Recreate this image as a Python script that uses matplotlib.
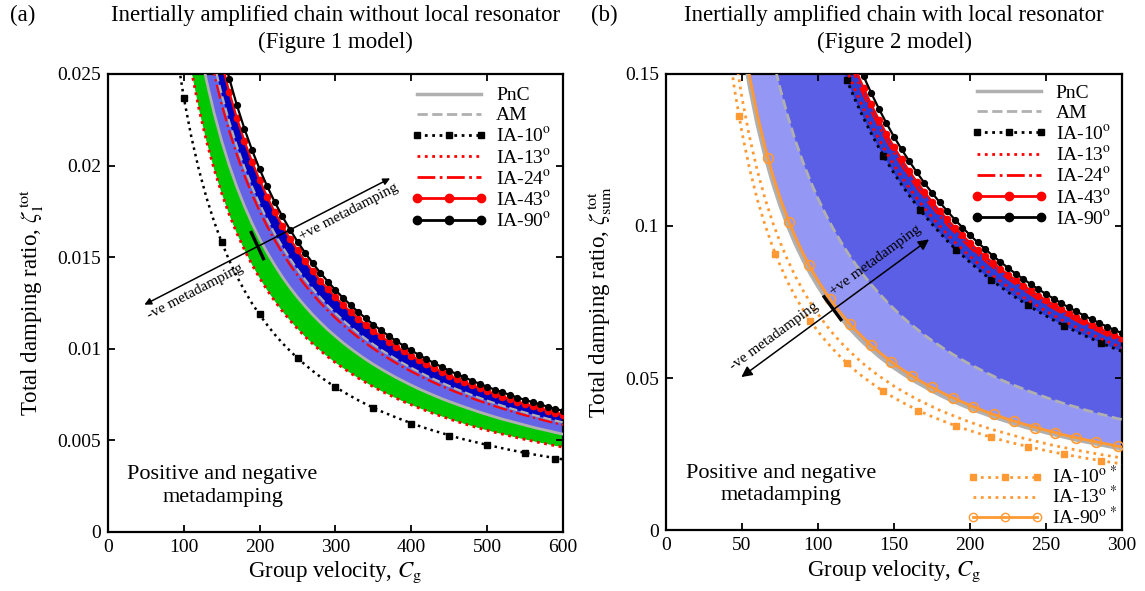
import matplotlib
matplotlib.use('Agg')
import matplotlib.pyplot as plt
from matplotlib.lines import Line2D
from matplotlib.ticker import FormatStrFormatter
import numpy as np

plt.rcParams['font.family'] = ['Liberation Serif', 'DejaVu Serif']
plt.rcParams['mathtext.fontset'] = 'stix'

# ---------------- (a) chain without local resonator ----------------
# damping ratios in this panel are stored in units of 1e-3
cg_a_ia10 = np.arange(90, 601, 10)
zeta_a_ia10 = [26.33, 23.70, 21.55, 19.75, 18.23, 16.93, 15.80, 14.81, 13.94, 13.17,
               12.47, 11.85, 11.29, 10.77, 10.30, 9.88, 9.48, 9.12, 8.78, 8.46,
               8.17, 7.90, 7.65, 7.41, 7.18, 6.97, 6.77, 6.58, 6.41, 6.24,
               6.08, 5.93, 5.78, 5.64, 5.51, 5.39, 5.27, 5.15, 5.04, 4.94,
               4.84, 4.74, 4.65, 4.56, 4.47, 4.39, 4.31, 4.23, 4.16, 4.09,
               4.02, 3.95]
cg_a_ia10_marks = [100, 150, 200, 250, 300, 350, 400, 450, 500, 550, 590]
zeta_a_ia10_marks = [23.7, 15.8, 11.9, 9.47, 7.89, 6.75, 5.88, 5.24, 4.71, 4.28, 3.99]

cg_a_ia13 = np.arange(110, 601, 10)
zeta_a_ia13 = [25.18, 23.08, 21.31, 19.79, 18.47, 17.31, 16.29, 15.39, 14.58, 13.85,
               13.19, 12.59, 12.04, 11.54, 11.08, 10.65, 10.26, 9.89, 9.55, 9.23,
               8.94, 8.66, 8.39, 8.15, 7.91, 7.69, 7.49, 7.29, 7.10, 6.93,
               6.76, 6.60, 6.44, 6.30, 6.16, 6.02, 5.89, 5.77, 5.65, 5.54,
               5.43, 5.33, 5.23, 5.13, 5.04, 4.95, 4.86, 4.78, 4.69, 4.62]

cg_a_pnc = np.arange(120, 601, 10)
zeta_a_pnc = [26.67, 24.62, 22.86, 21.33, 20.00, 18.82, 17.78, 16.84, 16.00, 15.24,
              14.55, 13.91, 13.33, 12.80, 12.31, 11.85, 11.43, 11.03, 10.67, 10.32,
              10.00, 9.70, 9.41, 9.14, 8.89, 8.65, 8.42, 8.21, 8.00, 7.80,
              7.62, 7.44, 7.27, 7.11, 6.96, 6.81, 6.67, 6.53, 6.40, 6.27,
              6.15, 6.04, 5.93, 5.82, 5.71, 5.61, 5.52, 5.42, 5.33]

cg_a_ia24 = np.arange(130, 601, 10)
zeta_a_ia24 = [26.92, 25.00, 23.33, 21.88, 20.59, 19.44, 18.42, 17.50, 16.67, 15.91,
               15.22, 14.58, 14.00, 13.46, 12.96, 12.50, 12.07, 11.67, 11.29, 10.94,
               10.61, 10.29, 10.00, 9.72, 9.46, 9.21, 8.97, 8.75, 8.54, 8.33,
               8.14, 7.95, 7.78, 7.61, 7.45, 7.29, 7.14, 7.00, 6.86, 6.73,
               6.60, 6.48, 6.36, 6.25, 6.14, 6.03, 5.93, 5.83]

cg_a_am = np.arange(130, 601, 10)
zeta_a_am = [27.54, 25.57, 23.87, 22.38, 21.06, 19.89, 18.84, 17.90, 17.05, 16.27,
             15.57, 14.92, 14.32, 13.77, 13.26, 12.79, 12.34, 11.93, 11.55, 11.19,
             10.85, 10.53, 10.23, 9.94, 9.68, 9.42, 9.18, 8.95, 8.73, 8.52,
             8.33, 8.14, 7.96, 7.78, 7.62, 7.46, 7.31, 7.16, 7.02, 6.88,
             6.75, 6.63, 6.51, 6.39, 6.28, 6.17, 6.07, 5.97]

cg_a_ia43 = np.arange(150, 601, 10)
zeta_a_ia43 = [25.60, 24.00, 22.59, 21.33, 20.21, 19.20, 18.29, 17.45, 16.70, 16.00,
               15.36, 14.77, 14.22, 13.71, 13.24, 12.80, 12.39, 12.00, 11.64, 11.29,
               10.97, 10.67, 10.38, 10.11, 9.85, 9.60, 9.37, 9.14, 8.93, 8.73,
               8.53, 8.35, 8.17, 8.00, 7.84, 7.68, 7.53, 7.38, 7.25, 7.11,
               6.98, 6.86, 6.74, 6.62, 6.51, 6.40]

cg_a_ia90 = np.arange(150, 601, 10)
zeta_a_ia90 = [26.40, 24.75, 23.29, 22.00, 20.84, 19.80, 18.86, 18.00, 17.22, 16.50,
               15.84, 15.23, 14.67, 14.14, 13.66, 13.20, 12.77, 12.38, 12.00, 11.65,
               11.31, 11.00, 10.70, 10.42, 10.15, 9.90, 9.66, 9.43, 9.21, 9.00,
               8.80, 8.61, 8.43, 8.25, 8.08, 7.92, 7.76, 7.62, 7.47, 7.33,
               7.20, 7.07, 6.95, 6.83, 6.71, 6.60]

# ---------------- (b) chain with local resonator ----------------
cg_b_ia10s = np.arange(40, 301, 5)
zeta_b_ia10s = [0.1633, 0.1451, 0.1306, 0.1187, 0.1088, 0.1005, 0.0933, 0.0871, 0.0816, 0.0768,
                0.0726, 0.0687, 0.0653, 0.0622, 0.0594, 0.0568, 0.0544, 0.0522, 0.0502, 0.0484,
                0.0466, 0.0450, 0.0435, 0.0421, 0.0408, 0.0396, 0.0384, 0.0373, 0.0363, 0.0353,
                0.0344, 0.0335, 0.0327, 0.0319, 0.0311, 0.0304, 0.0297, 0.0290, 0.0284, 0.0278,
                0.0272, 0.0267, 0.0261, 0.0256, 0.0251, 0.0246, 0.0242, 0.0237, 0.0233, 0.0229,
                0.0225, 0.0221, 0.0218]
cg_b_ia10s_marks = [48, 72, 95, 119, 143, 166, 191, 214, 238, 262, 286]
zeta_b_ia10s_marks = [0.1362, 0.0907, 0.0687, 0.0549, 0.0457, 0.0393, 0.0342, 0.0305,
                      0.0274, 0.0249, 0.0228]

cg_b_ia13s = np.arange(45, 301, 5)
zeta_b_ia13s = [0.1578, 0.1420, 0.1291, 0.1183, 0.1092, 0.1014, 0.0947, 0.0888, 0.0835, 0.0789,
                0.0747, 0.0710, 0.0676, 0.0645, 0.0617, 0.0592, 0.0568, 0.0546, 0.0526, 0.0507,
                0.0490, 0.0473, 0.0458, 0.0444, 0.0430, 0.0418, 0.0406, 0.0394, 0.0384, 0.0374,
                0.0364, 0.0355, 0.0346, 0.0338, 0.0330, 0.0323, 0.0316, 0.0309, 0.0302, 0.0296,
                0.0290, 0.0284, 0.0278, 0.0273, 0.0268, 0.0263, 0.0258, 0.0254, 0.0249, 0.0245,
                0.0241, 0.0237]

cg_b_pnc = np.arange(50, 301, 5)
zeta_b_pnc = [0.1600, 0.1455, 0.1333, 0.1231, 0.1143, 0.1067, 0.1000, 0.0941, 0.0889, 0.0842,
              0.0800, 0.0762, 0.0727, 0.0696, 0.0667, 0.0640, 0.0615, 0.0593, 0.0571, 0.0552,
              0.0533, 0.0516, 0.0500, 0.0485, 0.0471, 0.0457, 0.0444, 0.0432, 0.0421, 0.0410,
              0.0400, 0.0390, 0.0381, 0.0372, 0.0364, 0.0356, 0.0348, 0.0340, 0.0333, 0.0327,
              0.0320, 0.0314, 0.0308, 0.0302, 0.0296, 0.0291, 0.0286, 0.0281, 0.0276, 0.0271,
              0.0267]

cg_b_ia90s = np.arange(50, 301, 5)
zeta_b_ia90s = [0.1640, 0.1491, 0.1367, 0.1262, 0.1171, 0.1093, 0.1025, 0.0965, 0.0911, 0.0863,
                0.0820, 0.0781, 0.0745, 0.0713, 0.0683, 0.0656, 0.0631, 0.0607, 0.0586, 0.0566,
                0.0547, 0.0529, 0.0513, 0.0497, 0.0482, 0.0469, 0.0456, 0.0443, 0.0432, 0.0421,
                0.0410, 0.0400, 0.0390, 0.0381, 0.0373, 0.0364, 0.0357, 0.0349, 0.0342, 0.0335,
                0.0328, 0.0322, 0.0315, 0.0309, 0.0304, 0.0298, 0.0293, 0.0288, 0.0283, 0.0278,
                0.0273]
cg_b_ia90s_marks = [67, 81, 94, 108, 121, 135, 148, 162, 175, 189, 202, 216, 229, 243,
                    256, 270, 283, 297]
zeta_b_ia90s_marks = [0.1224, 0.1012, 0.0872, 0.0759, 0.0678, 0.0607, 0.0554, 0.0506,
                      0.0469, 0.0434, 0.0406, 0.0380, 0.0358, 0.0337, 0.0320, 0.0304,
                      0.0290, 0.0276]

cg_b_am = np.arange(70, 301, 5)
zeta_b_am = [0.1557, 0.1453, 0.1363, 0.1282, 0.1211, 0.1147, 0.1090, 0.1038, 0.0991, 0.0948,
             0.0908, 0.0872, 0.0838, 0.0807, 0.0779, 0.0752, 0.0727, 0.0703, 0.0681, 0.0661,
             0.0641, 0.0623, 0.0606, 0.0589, 0.0574, 0.0559, 0.0545, 0.0532, 0.0519, 0.0507,
             0.0495, 0.0484, 0.0474, 0.0464, 0.0454, 0.0445, 0.0436, 0.0427, 0.0419, 0.0411,
             0.0404, 0.0396, 0.0389, 0.0382, 0.0376, 0.0369, 0.0363]

cg_b_ia10 = np.arange(115, 301, 5)
zeta_b_ia10 = [0.1530, 0.1467, 0.1408, 0.1354, 0.1304, 0.1257, 0.1214, 0.1173, 0.1135, 0.1100,
               0.1067, 0.1035, 0.1006, 0.0978, 0.0951, 0.0926, 0.0903, 0.0880, 0.0859, 0.0838,
               0.0819, 0.0800, 0.0782, 0.0765, 0.0749, 0.0733, 0.0718, 0.0704, 0.0690, 0.0677,
               0.0664, 0.0652, 0.0640, 0.0629, 0.0618, 0.0607, 0.0597, 0.0587]
cg_b_ia10_marks = [119, 143, 167, 191, 214, 238, 262, 286]
zeta_b_ia10_marks = [0.1479, 0.1231, 0.1054, 0.0921, 0.0822, 0.0739, 0.0672, 0.0615]

cg_b_ia13 = np.arange(115, 301, 5)
zeta_b_ia13 = [0.1565, 0.1500, 0.1440, 0.1385, 0.1333, 0.1286, 0.1241, 0.1200, 0.1161, 0.1125,
               0.1091, 0.1059, 0.1029, 0.1000, 0.0973, 0.0947, 0.0923, 0.0900, 0.0878, 0.0857,
               0.0837, 0.0818, 0.0800, 0.0783, 0.0766, 0.0750, 0.0735, 0.0720, 0.0706, 0.0692,
               0.0679, 0.0667, 0.0655, 0.0643, 0.0632, 0.0621, 0.0610, 0.0600]

cg_b_ia24 = np.arange(115, 301, 5)
zeta_b_ia24 = [0.1617, 0.1550, 0.1488, 0.1431, 0.1378, 0.1329, 0.1283, 0.1240, 0.1200, 0.1163,
               0.1127, 0.1094, 0.1063, 0.1033, 0.1005, 0.0979, 0.0954, 0.0930, 0.0907, 0.0886,
               0.0865, 0.0845, 0.0827, 0.0809, 0.0791, 0.0775, 0.0759, 0.0744, 0.0729, 0.0715,
               0.0702, 0.0689, 0.0676, 0.0664, 0.0653, 0.0641, 0.0631, 0.0620]

cg_b_ia43 = np.arange(120, 301, 5)
zeta_b_ia43 = [0.1575, 0.1512, 0.1454, 0.1400, 0.1350, 0.1303, 0.1260, 0.1219, 0.1181, 0.1145,
               0.1112, 0.1080, 0.1050, 0.1022, 0.0995, 0.0969, 0.0945, 0.0922, 0.0900, 0.0879,
               0.0859, 0.0840, 0.0822, 0.0804, 0.0788, 0.0771, 0.0756, 0.0741, 0.0727, 0.0713,
               0.0700, 0.0687, 0.0675, 0.0663, 0.0652, 0.0641, 0.0630]

cg_b_ia90 = np.arange(125, 301, 5)
zeta_b_ia90 = [0.1552, 0.1492, 0.1437, 0.1386, 0.1338, 0.1293, 0.1252, 0.1213, 0.1176, 0.1141,
               0.1109, 0.1078, 0.1049, 0.1021, 0.0995, 0.0970, 0.0946, 0.0924, 0.0902, 0.0882,
               0.0862, 0.0843, 0.0826, 0.0808, 0.0792, 0.0776, 0.0761, 0.0746, 0.0732, 0.0719,
               0.0705, 0.0693, 0.0681, 0.0669, 0.0658, 0.0647]

# annotation arrows (data coords): tail, head, and the short crossing bar
arrow_a = [(48, 0.0124), (372, 0.0193)]
bar_a = [(189, 0.01634), (205, 0.01491)]
arrow_b = [(49.5, 0.0503), (173, 0.0956)]
bar_b = [(104, 0.0767), (115, 0.0692)]

GRAY = '#b0b0b0'
ORANGE = '#ff9933'
FS_TICK = 14
FS_LABEL = 16.5


def style_axes(ax, xmax, xstep, ymax, ystep):
    """Box frame with inward ticks on all four sides."""
    ax.set_xlim(0, xmax)
    ax.set_ylim(0, ymax)
    ax.set_xticks(np.arange(0, xmax + 1e-9, xstep))
    ax.set_yticks(np.arange(0, ymax + 1e-9, ystep))
    ax.yaxis.set_major_formatter(FormatStrFormatter('%g'))
    ax.tick_params(direction='in', top=True, right=True, length=5, width=1.3,
                   labelsize=FS_TICK, pad=5)
    for s in ax.spines.values():
        s.set_linewidth(1.6)


def fill_above(ax, x, y, color, z):
    ax.fill_between(x, y, 1.0, color=color, lw=0, zorder=z)


def draw_arrow(ax, arrow, bar, head):
    ax.annotate('', xy=arrow[1], xytext=arrow[0],
                arrowprops=dict(arrowstyle='<|-|>', color='k', lw=1.1,
                                mutation_scale=head, shrinkA=0, shrinkB=0),
                zorder=8)
    ax.plot([bar[0][0], bar[1][0]], [bar[0][1], bar[1][1]], color='k', lw=2.4, zorder=8)


def panel_a(ax):
    s = 1e-3
    fill_above(ax, cg_a_ia13, np.array(zeta_a_ia13) * s, '#00c800', 1.0)
    fill_above(ax, cg_a_pnc, np.array(zeta_a_pnc) * s, '#6464e6', 1.1)
    fill_above(ax, cg_a_am, np.array(zeta_a_am) * s, '#0000c0', 1.2)
    fill_above(ax, cg_a_ia43, np.array(zeta_a_ia43) * s, 'white', 1.3)

    ax.plot(cg_a_ia10, np.array(zeta_a_ia10) * s, color='k', ls=':', lw=1.8, zorder=4)
    ax.plot(cg_a_ia10_marks, np.array(zeta_a_ia10_marks) * s, 's', color='k', ms=4.5, zorder=4)
    ax.plot(cg_a_ia13, np.array(zeta_a_ia13) * s, color='red', ls=':', lw=2, zorder=4)
    ax.plot(cg_a_pnc, np.array(zeta_a_pnc) * s, color=GRAY, lw=2, zorder=4)
    ax.plot(cg_a_ia24, np.array(zeta_a_ia24) * s, color='red', ls='-.', lw=1.6, zorder=4)
    ax.plot(cg_a_am, np.array(zeta_a_am) * s, color=GRAY, ls='--', lw=1.6, zorder=4)
    ax.plot(cg_a_ia43, np.array(zeta_a_ia43) * s, '-o', color='red', lw=1.6, ms=4.5, zorder=5)
    ax.plot(cg_a_ia90, np.array(zeta_a_ia90) * s, '-o', color='k', lw=1.6, ms=4.2, zorder=5)

    style_axes(ax, 600, 100, 0.025, 0.005)
    ax.set_xlabel('Group velocity, $C_\\mathrm{g}$', fontsize=FS_LABEL, labelpad=3)
    ax.set_ylabel('Total damping ratio, $\\zeta_1^{\\,\\mathrm{tot}}$', fontsize=FS_LABEL, labelpad=8)

    draw_arrow(ax, arrow_a, bar_a, 10)
    ax.text(318, 0.01744, '+ve metadamping', rotation=27.4, fontsize=11,
            ha='center', va='center', rotation_mode='anchor', zorder=9)
    ax.text(115, 0.0131, '-ve metadamping', rotation=27.4, fontsize=11,
            ha='center', va='center', rotation_mode='anchor', zorder=9)
    ax.text(151, 0.0025, 'Positive and negative\nmetadamping', fontsize=16,
            ha='center', va='center', linespacing=1.25, zorder=9)


def panel_b(ax):
    fill_above(ax, cg_b_pnc, zeta_b_pnc, '#9597f5', 1.0)
    fill_above(ax, cg_b_am, zeta_b_am, '#5b5fe5', 1.1)
    fill_above(ax, cg_b_ia10, zeta_b_ia10, '#2b3dd6', 1.2)
    fill_above(ax, cg_b_ia43, zeta_b_ia43, 'white', 1.3)

    ax.plot(cg_b_ia10s, zeta_b_ia10s, color=ORANGE, ls=':', lw=2, zorder=4)
    ax.plot(cg_b_ia10s_marks, zeta_b_ia10s_marks, 's', color=ORANGE, ms=5, zorder=4)
    ax.plot(cg_b_ia13s, zeta_b_ia13s, color=ORANGE, ls=':', lw=2, zorder=4)
    ax.plot(cg_b_pnc, zeta_b_pnc, color=GRAY, lw=2.5, zorder=4)
    ax.plot(cg_b_ia90s, zeta_b_ia90s, color=ORANGE, lw=2, zorder=4)
    ax.plot(cg_b_ia90s_marks, zeta_b_ia90s_marks, 'o', mfc='none', mec=ORANGE, mew=1.2,
            ms=7, zorder=4)
    ax.plot(cg_b_am, zeta_b_am, color=GRAY, ls='--', lw=2, zorder=4)

    ax.plot(cg_b_ia10, zeta_b_ia10, color='k', ls=':', lw=2, zorder=4)
    ax.plot(cg_b_ia10_marks, zeta_b_ia10_marks, 's', color='k', ms=5, zorder=4)
    ax.plot(cg_b_ia13, zeta_b_ia13, color='red', ls=':', lw=2, zorder=4)
    ax.plot(cg_b_ia24, zeta_b_ia24, color='red', ls='-.', lw=1.8, zorder=4)
    ax.plot(cg_b_ia43, zeta_b_ia43, '-o', color='red', lw=1.6, ms=4.5, zorder=5)
    ax.plot(cg_b_ia90, zeta_b_ia90, '-o', color='k', lw=1.6, ms=4.2, zorder=5)

    style_axes(ax, 300, 50, 0.15, 0.05)
    ax.set_xlabel('Group velocity, $C_\\mathrm{g}$', fontsize=FS_LABEL, labelpad=3)
    ax.set_ylabel('Total damping ratio, $\\zeta_{\\mathrm{sum}}^{\\,\\mathrm{tot}}$',
                  fontsize=FS_LABEL, labelpad=8)

    draw_arrow(ax, arrow_b, bar_b, 16)
    ax.text(138, 0.0887, '+ve metadamping', rotation=36.2, fontsize=11,
            ha='center', va='center', rotation_mode='anchor', zorder=9)
    ax.text(71, 0.0637, '-ve metadamping', rotation=36.2, fontsize=11,
            ha='center', va='center', rotation_mode='anchor', zorder=9)
    ax.text(75.5, 0.0149, 'Positive and negative\nmetadamping', fontsize=16,
            ha='center', va='center', linespacing=1.25, zorder=9)


def ia_handles():
    deg = '$^{\\mathrm{o}}$'
    return [
        Line2D([], [], color=GRAY, lw=2.5, label='PnC'),
        Line2D([], [], color=GRAY, lw=2, ls='--', label='AM'),
        Line2D([], [], color='k', lw=2, ls=':', marker='s', ms=5, label='IA-10' + deg),
        Line2D([], [], color='red', lw=2, ls=':', label='IA-13' + deg),
        Line2D([], [], color='red', lw=2, ls='-.', label='IA-24' + deg),
        Line2D([], [], color='red', lw=2, marker='o', ms=6, label='IA-43' + deg),
        Line2D([], [], color='k', lw=2, marker='o', ms=6, label='IA-90' + deg),
    ]


def add_legend(ax, handles, loc, anchor, spacing):
    return ax.legend(handles=handles, loc=loc, bbox_to_anchor=anchor, frameon=False,
                     fontsize=14, handlelength=3.9, handletextpad=0.45,
                     labelspacing=spacing, borderpad=0, borderaxespad=0, numpoints=3)


def main():
    fig = plt.figure(figsize=(11.45, 5.91), dpi=100)
    ax_a = fig.add_axes([0.0943, 0.1003, 0.3974, 0.7745])
    ax_b = fig.add_axes([0.5817, 0.1032, 0.3983, 0.7716])

    panel_a(ax_a)
    panel_b(ax_b)

    leg_a = add_legend(ax_a, ia_handles(), 'upper left', (0.667, 0.972), 0.12)
    leg_a.set_zorder(10)
    leg_b = add_legend(ax_b, ia_handles(), 'upper left', (0.669, 0.977), 0.12)
    leg_b.set_zorder(10)
    ax_b.add_artist(leg_b)
    star = '$^{\\mathrm{o}\\,*}$'
    orange_handles = [
        Line2D([], [], color=ORANGE, lw=2, ls=':', marker='s', ms=5, label='IA-10' + star),
        Line2D([], [], color=ORANGE, lw=2, ls=':', label='IA-13' + star),
        Line2D([], [], color=ORANGE, lw=2, marker='o', mfc='none', ms=6, label='IA-90' + star),
    ]
    leg_c = add_legend(ax_b, orange_handles, 'lower left', (0.66, 0.005), -0.1)
    leg_c.set_zorder(10)

    fig.text(0.2930, 0.951, 'Inertially amplified chain without local resonator\n(Figure 1 model)',
             ha='center', va='center', fontsize=16.5, linespacing=1.34)
    fig.text(0.7808, 0.951, 'Inertially amplified chain with local resonator\n(Figure 2 model)',
             ha='center', va='center', fontsize=16.5, linespacing=1.34)
    fig.text(0.009, 0.9746, '(a)', ha='left', va='center', fontsize=16.5)
    fig.text(0.516, 0.9746, '(b)', ha='left', va='center', fontsize=16.5)

    fig.savefig('out.png', dpi=100)
    plt.close(fig)


if __name__ == "__main__":
    main()
